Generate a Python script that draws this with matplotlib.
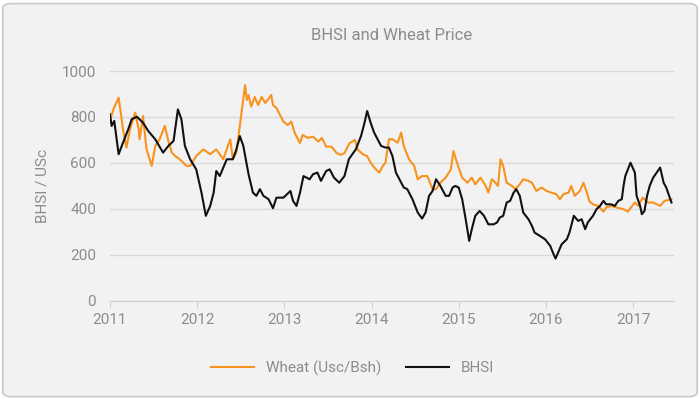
import numpy as np
import matplotlib.pyplot as plt
from matplotlib.patches import FancyBboxPatch

# decimal years and values
wheat_t = [2011.00, 2011.04, 2011.10, 2011.13, 2011.15, 2011.19, 2011.23, 2011.29, 2011.33, 2011.34,
           2011.38, 2011.42, 2011.48, 2011.52, 2011.57, 2011.63, 2011.67, 2011.71, 2011.75, 2011.80,
           2011.88, 2011.92, 2011.99, 2012.07, 2012.15, 2012.22, 2012.30, 2012.38, 2012.41, 2012.45,
           2012.49, 2012.55, 2012.57, 2012.59, 2012.62, 2012.66, 2012.70, 2012.74, 2012.78, 2012.81,
           2012.85, 2012.87, 2012.91, 2012.95, 2012.99, 2013.04, 2013.08, 2013.12, 2013.18, 2013.21,
           2013.27, 2013.33, 2013.39, 2013.43, 2013.48, 2013.54, 2013.60, 2013.65, 2013.69, 2013.75,
           2013.81, 2013.84, 2013.90, 2013.95, 2013.99, 2014.05, 2014.09,
           2014.13, 2014.16, 2014.20, 2014.24, 2014.30, 2014.34, 2014.37, 2014.43, 2014.49, 2014.53,
           2014.58, 2014.64, 2014.70, 2014.74, 2014.79, 2014.85, 2014.91, 2014.94, 2014.98, 2015.04,
           2015.10, 2015.15, 2015.19, 2015.25, 2015.31, 2015.34, 2015.38, 2015.42, 2015.45, 2015.48,
           2015.51, 2015.55, 2015.61, 2015.65, 2015.70, 2015.74, 2015.80, 2015.84, 2015.89, 2015.95,
           2016.01, 2016.06, 2016.12, 2016.16, 2016.20, 2016.26, 2016.29, 2016.33, 2016.39, 2016.43,
           2016.47, 2016.50, 2016.54, 2016.60, 2016.66, 2016.69, 2016.75, 2016.81, 2016.89, 2016.94,
           2016.96, 2017.02, 2017.06, 2017.11, 2017.17, 2017.23, 2017.31, 2017.36, 2017.44]
wheat_v = [783, 833, 884, 804, 746, 667, 746, 819, 746, 703,
           804, 659, 587, 674, 703, 761, 696, 645, 630, 616,
           587, 587, 630, 659, 638, 659, 616, 703, 616, 645,
           761, 939, 874, 896, 845, 887, 852, 888, 861, 874,
           896, 852, 839, 809, 780, 765, 780, 730, 687, 722,
           709, 714, 693, 709, 671, 671, 643, 635, 643, 687,
           700, 659, 638, 630, 601, 572, 558,
           587, 601, 703, 703, 688, 732, 674, 616, 587, 529,
           543, 543, 486, 486, 514, 536, 572, 652, 601, 536,
           514, 536, 507, 536, 500, 471, 529, 514, 500, 616,
           587, 514, 500, 486, 507, 529, 522, 514, 478, 493,
           478, 471, 464, 442, 464, 471, 500, 457, 478, 514,
           471, 432, 420, 413, 388, 406, 413, 406, 399, 388,
           399, 428, 413, 449, 428, 428, 413, 435, 442]

bhsi_t = [2011.00, 2011.02, 2011.05, 2011.10, 2011.15, 2011.21, 2011.25, 2011.31, 2011.38, 2011.44,
          2011.52, 2011.61, 2011.67, 2011.73, 2011.78, 2011.82, 2011.86, 2011.92, 2011.99, 2012.05,
          2012.10, 2012.15, 2012.19, 2012.22, 2012.26, 2012.34, 2012.41, 2012.45, 2012.49, 2012.53,
          2012.59, 2012.64, 2012.68, 2012.72, 2012.76, 2012.82, 2012.87, 2012.91, 2012.99, 2013.07,
          2013.10, 2013.14, 2013.18, 2013.22, 2013.29, 2013.33, 2013.38, 2013.42, 2013.48, 2013.52,
          2013.57, 2013.63, 2013.69, 2013.74, 2013.78, 2013.82, 2013.88, 2013.92, 2013.95, 2013.99,
          2014.03, 2014.07, 2014.11, 2014.16, 2014.20, 2014.24, 2014.28, 2014.32, 2014.37, 2014.41,
          2014.47, 2014.53, 2014.58, 2014.62, 2014.66, 2014.70, 2014.74, 2014.79, 2014.85, 2014.89,
          2014.93, 2014.96, 2015.00, 2015.04, 2015.08, 2015.12, 2015.15, 2015.19, 2015.24, 2015.29,
          2015.34, 2015.40, 2015.44, 2015.47, 2015.51, 2015.55, 2015.59, 2015.63, 2015.66, 2015.70,
          2015.74, 2015.80, 2015.84, 2015.87, 2015.93, 2015.99, 2016.05, 2016.08, 2016.11, 2016.14,
          2016.18, 2016.24, 2016.27, 2016.32, 2016.37, 2016.41, 2016.45, 2016.48, 2016.54, 2016.58,
          2016.62, 2016.66, 2016.69, 2016.75, 2016.79, 2016.83, 2016.87, 2016.89, 2016.91, 2016.94,
          2016.97, 2017.02, 2017.04, 2017.08, 2017.10, 2017.13, 2017.16, 2017.19, 2017.23, 2017.27,
          2017.31, 2017.35, 2017.38, 2017.42, 2017.44]
bhsi_v = [812, 761, 783, 638, 688, 746, 790, 801, 775, 739,
          703, 645, 674, 696, 833, 790, 674, 616, 572, 471,
          370, 413, 471, 565, 543, 616, 616, 659, 717, 674,
          551, 471, 457, 486, 457, 442, 403, 449, 449, 478,
          435, 413, 471, 543, 529, 551, 558, 522, 565, 572,
          536, 514, 543, 616, 638, 659, 717, 775, 826, 775,
          732, 703, 674, 667, 667, 630, 558, 529, 493, 486,
          442, 384, 358, 384, 457, 478, 529, 500, 457, 457,
          493, 500, 493, 442, 355, 261, 312, 370, 391, 370,
          333, 333, 341, 362, 370, 428, 435, 471, 486, 457,
          384, 355, 326, 297, 283, 268, 239, 210, 184, 210,
          246, 268, 297, 370, 348, 355, 312, 341, 370, 399,
          413, 435, 420, 420, 413, 435, 442, 500, 543, 572,
          601, 558, 457, 413, 377, 391, 457, 500, 536, 558,
          580, 514, 493, 449, 428]

years = [2011, 2012, 2013, 2014, 2015, 2016, 2017]

txt = '#8c8c8c'
plt.rcParams['font.family'] = ['Roboto', 'DejaVu Sans']

fig = plt.figure(figsize=(7, 3.99), dpi=100, facecolor='white')
fig.patches.append(FancyBboxPatch((0.004, 0.006), 0.992, 0.985,
                                  boxstyle='round,pad=0,rounding_size=0.012',
                                  transform=fig.transFigure, facecolor='#f2f2f2',
                                  edgecolor='#c8c8c8', linewidth=1.2, zorder=-10))

ax = fig.add_axes([0.157, 0.246, 0.806, 0.576])
ax.set_facecolor('none')
ax.plot(wheat_t, wheat_v, color='#f7931e', lw=1.5, label='Wheat (Usc/Bsh)')
ax.plot(bhsi_t, bhsi_v, color='#111111', lw=1.5, label='BHSI')

ax.set_xlim(2011, 2017.47)
ax.set_ylim(0, 1000)
ax.set_yticks(range(0, 1001, 200))
ax.set_xticks(years)
ax.set_xticklabels([str(y) for y in years])
ax.grid(axis='y', color='#d9d9d9', lw=1)
ax.set_axisbelow(True)
for s in ['top', 'right', 'left']:
    ax.spines[s].set_visible(False)
ax.spines['bottom'].set_color('#d0d0d0')
ax.tick_params(axis='y', length=0, colors=txt, labelsize=11, pad=10)
ax.tick_params(axis='x', length=5, color='#d0d0d0', colors=txt, labelsize=11, pad=4)
ax.set_ylabel('BHSI / USc', color=txt, fontsize=11, labelpad=9)
ax.set_title('BHSI and Wheat Price', color=txt, fontsize=12, pad=22)

leg = ax.legend(loc='upper center', bbox_to_anchor=(0.43, -0.2), ncol=2, frameon=False,
                fontsize=11, handlelength=2.8, columnspacing=1.6)
for t in leg.get_texts():
    t.set_color(txt)

fig.savefig('out.png', dpi=100, facecolor=fig.get_facecolor())
